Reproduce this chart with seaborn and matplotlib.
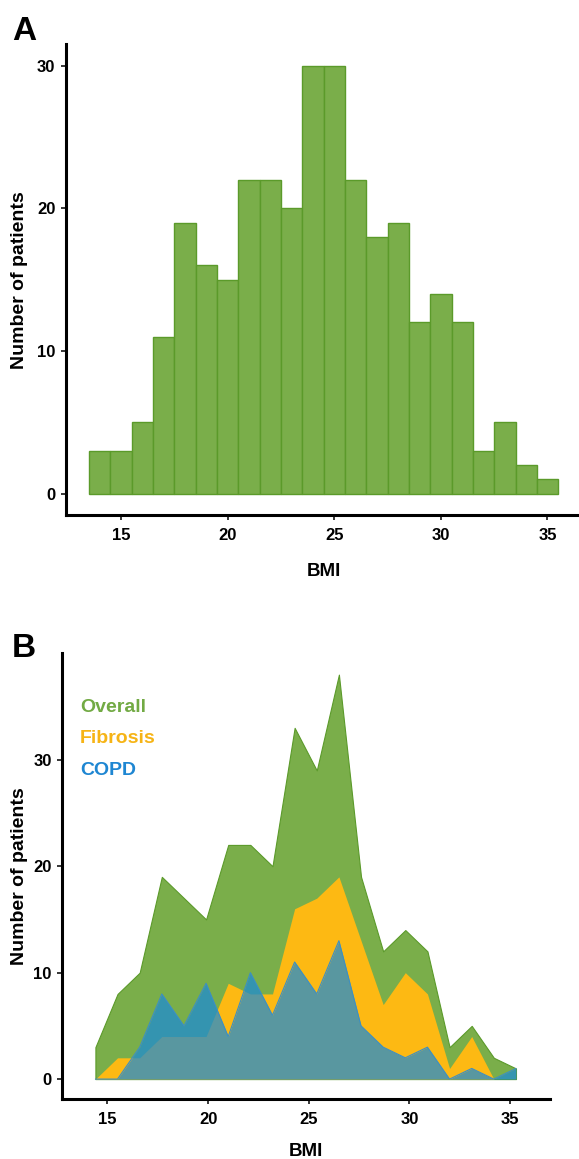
import numpy as np
import pandas as pd
import seaborn as sns
import matplotlib.pyplot as plt

# Panel A - BMI histogram, bin width 1
hist_bmi = [14, 15, 16, 17, 18, 19, 20, 21, 22, 23, 24, 25, 26, 27, 28, 29, 30, 31, 32, 33, 34, 35]
hist_counts = [3, 3, 5, 11, 19, 16, 15, 22, 22, 20, 30, 30, 22, 18, 19, 12, 14, 12, 3, 5, 2, 1]

# Panel B - counts per BMI group
bmi_mid = [14.4, 15.5, 16.6, 17.7, 18.8, 19.9, 21.0, 22.1, 23.2, 24.3,
           25.4, 26.5, 27.6, 28.7, 29.8, 30.9, 32.0, 33.1, 34.2, 35.3]
overall = [3, 8, 10, 19, 17, 15, 22, 22, 20, 33, 29, 38, 19, 12, 14, 12, 3, 5, 2, 1]
fibrosis = [0, 2, 2, 4, 4, 4, 9, 8, 8, 16, 17, 19, 13, 7, 10, 8, 1, 4, 0, 0]
copd = [0, 0, 3, 8, 5, 9, 4, 10, 6, 11, 8, 13, 5, 3, 2, 3, 0, 1, 0, 1]

green = '#7AAE4A'
green_edge = '#5B9A2A'
yellow = '#FDB913'
blue = '#1A8AD8'

sns.set_theme(style='ticks')
plt.rcParams['font.family'] = ['Liberation Sans', 'DejaVu Sans']
plt.rcParams['font.weight'] = 'bold'
plt.rcParams['axes.labelweight'] = 'bold'
plt.rcParams['text.color'] = 'black'
plt.rcParams['axes.labelcolor'] = 'black'
plt.rcParams['axes.edgecolor'] = 'black'

fig = plt.figure(figsize=(5.79, 11.59), dpi=100)
ax1 = fig.add_axes([0.1135, 0.5556, 0.891, 0.4062])
ax2 = fig.add_axes([0.1071, 0.0515, 0.8428, 0.3848])

# A
hist_df = pd.DataFrame({'BMI': hist_bmi, 'n': hist_counts})
sns.histplot(data=hist_df, x='BMI', weights='n', binwidth=1, binrange=(13.5, 35.5),
             color=green, edgecolor=green_edge, linewidth=1, alpha=1, ax=ax1)
ax1.set_xlim(12.4, 36.6)
ax1.set_ylim(-1.5, 31.5)

# B
df = pd.DataFrame({'BMI': bmi_mid, 'Overall': overall, 'Fibrosis': fibrosis, 'COPD': copd})
ax2.fill_between(df['BMI'], 0, df['Overall'], color=green, edgecolor=green_edge, linewidth=0.8)
ax2.fill_between(df['BMI'], 0, df['Fibrosis'], color=yellow, linewidth=0)
ax2.fill_between(df['BMI'], 0, df['COPD'], color=blue, alpha=0.72, linewidth=0)
sns.lineplot(data=df, x='BMI', y='COPD', color='#3C8FC4', linewidth=0.8, ax=ax2)
ax2.set_xlim(12.74, 36.99)
ax2.set_ylim(-1.9, 40.0)

ax2.text(0.037, 0.879, 'Overall', color='#72AA44', fontsize=14, fontweight='bold',
         transform=ax2.transAxes, va='center')
ax2.text(0.037, 0.809, 'Fibrosis', color='#F6B416', fontsize=14, fontweight='bold',
         transform=ax2.transAxes, va='center')
ax2.text(0.037, 0.737, 'COPD', color='#1E86D2', fontsize=14, fontweight='bold',
         transform=ax2.transAxes, va='center')

for ax, ylab_x, xlab_y in ((ax1, -0.073, -0.102), (ax2, -0.070, -0.098)):
    sns.despine(ax=ax)
    ax.spines['left'].set_linewidth(2.2)
    ax.spines['bottom'].set_linewidth(2.2)
    ax.set_xticks([15, 20, 25, 30, 35])
    ax.set_yticks([0, 10, 20, 30])
    ax.tick_params(axis='both', labelsize=12, width=1.1, length=3.5, colors='black')
    ax.tick_params(axis='x', pad=5.5)
    ax.tick_params(axis='y', pad=4)
    ax.set_xlabel('BMI', fontsize=13.5)
    ax.set_ylabel('Number of patients', fontsize=14)
    ax.xaxis.set_label_coords(0.5, xlab_y)
    ax.yaxis.set_label_coords(ylab_x, 0.5)
    ax.grid(False)

fig.text(12 / 579, 1 - 40 / 1159, 'A', fontsize=24, fontweight='bold', va='baseline')
fig.text(12 / 579, 1 - 657 / 1159, 'B', fontsize=24, fontweight='bold', va='baseline')

fig.savefig('out.png', dpi=100)
